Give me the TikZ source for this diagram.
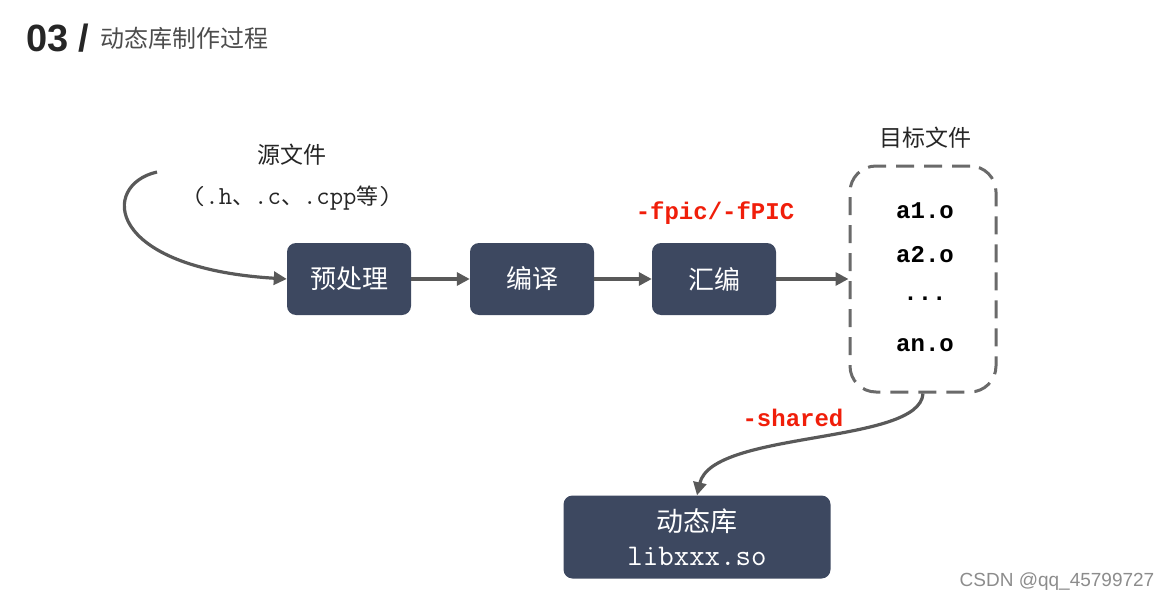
\documentclass[tikz,border=0pt]{standalone}
\usepackage{fontspec}
\setmainfont{Liberation Sans}
\setmonofont{Liberation Mono}
\newfontfamily\cjk{Noto Sans CJK SC}
\newfontfamily\lmmono{Latin Modern Mono}
\usetikzlibrary{positioning,arrows.meta}
\definecolor{boxblue}{HTML}{3D4860}
\definecolor{linegray}{HTML}{595959}
\definecolor{flagred}{HTML}{F01E0A}
\newcommand\zh[1]{{\cjk #1}}
\newcommand\fs[1]{\fontsize{#1}{1.2\dimexpr#1pt\relax}\selectfont}

\begin{document}
\begin{tikzpicture}[x=1pt,y=-1pt,
step box/.style = {fill=boxblue, text=white, rounded corners=9pt, minimum width=124pt,
  minimum height=72pt, inner sep=0pt, font=\cjk\fs{26}},
flow/.style = {draw=linegray, line width=3.2pt, -{Triangle[length=13pt,width=13pt]}},
flag/.style = {text=flagred, font=\ttfamily\bfseries\fs{24}},
obj/.style = {font=\ttfamily\bfseries\fs{24}},
]
\useasboundingbox (0,0) rectangle (1171,602);

% title
\node[anchor=west, inner sep=0pt, text=black!85, font=\bfseries\fs{38}] (num) at (26,38) {03 /};
\node[anchor=west, inner sep=0pt, text=black!70, font=\cjk\fs{24}] (title) at (100,38) {动态库制作过程};

% source files
\node[font=\cjk\fs{23}, text=black!85] (src) at (292,155) {源文件};
\node[font=\lmmono\fs{26}, text=black!85] (srcext) at (292,198) {(.h\zh{\fs{22}、}.c\zh{\fs{22}、}.cpp\zh{\fs{22}等})};
\coordinate (start) at (157,172);

% steps
\node[step box] (pre) at (349,279) {预处理};
\node[step box] (comp) at (532,279) {编译};
\node[step box] (asm) at (714,279) {汇编};
\node[flag] (fpic) at (715,213) {-fpic/-fPIC};

% object files
\node[draw=linegray!90, line width=3pt, dash pattern=on 18pt off 10pt, rounded corners=26pt,
  minimum width=146pt, minimum height=226pt] (objs) at (923,279) {};
\node[font=\cjk\fs{23}, text=black!85] (objlabel) at (925,138) {目标文件};
\node[obj] (a1) at (925,211) {a1.o};
\node[obj] (a2) at (925,255) {a2.o};
\node[obj] (dots) at (925,299) {...};
\node[obj] (an) at (925,345) {an.o};

% shared library
\node[flag] (shared) at (793,418) {-shared};
\node[fill=boxblue, text=white, rounded corners=9pt, minimum width=267pt, minimum height=83pt,
  align=center, inner sep=0pt, font=\fs{27}] (lib) at (697,537)
  {{\cjk 动态库}\\[1pt]{\lmmono\fs{30}libxxx.so}};

\node[text=black!45, font=\fs{19}] (mark) at (1057,582) {CSDN @qq\_45799727};

\draw[flow] (start) .. controls (100,185) and (105,268) .. (pre.west);
\draw[flow] (pre) -- (comp);
\draw[flow] (comp) -- (asm);
\draw[flow] (asm) -- (objs.west);
\draw[flow] (objs.south) .. controls (920,445) and (712,430) .. (lib.north);
\end{tikzpicture}
\end{document}
